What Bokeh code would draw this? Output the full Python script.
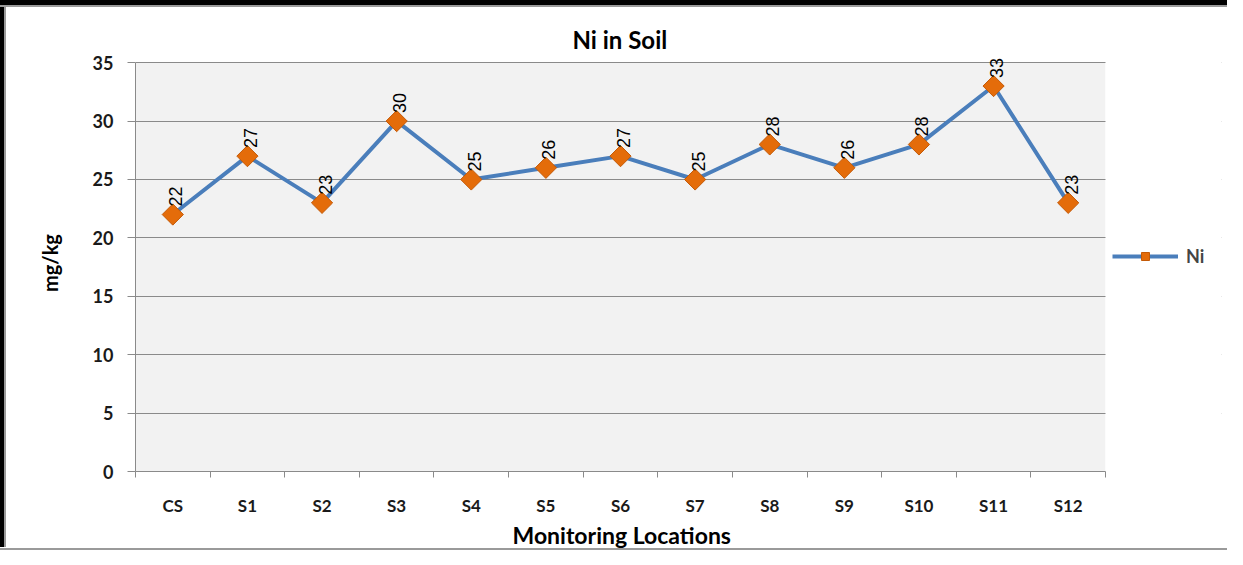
import math
from bokeh.plotting import figure
from bokeh.layouts import column, row
from bokeh.models import (ColumnDataSource, FixedTicker, Legend, LegendItem,
                          BoxAnnotation, Range1d, Div, Title)
from bokeh.core.properties import value
from bokeh.embed import file_html
from bokeh.resources import INLINE

categories = ["CS", "S1", "S2", "S3", "S4", "S5", "S6", "S7", "S8", "S9", "S10", "S11", "S12"]
ni_values = [22, 27, 23, 30, 25, 26, 27, 25, 28, 26, 28, 33, 23]
y_ticks = [0, 5, 10, 15, 20, 25, 30, 35]
y_max = 35

n = len(categories)
xpos = [i + 0.5 for i in range(n)]
src = ColumnDataSource(dict(x=xpos, y=ni_values, cat=categories,
                            lbl=[str(v) for v in ni_values]))

# layout (pixels)
FRAME_W, FRAME_H = 1086, 417
AREA_W = 970                      # width of the gray plot area inside the frame
x_end = n * FRAME_W / AREA_W      # frame extends right to host the legend
W, H = 1221, 540

fig = figure(width=W, height=H, frame_width=FRAME_W, frame_height=FRAME_H,
             output_backend="svg", toolbar_location=None,
             x_range=Range1d(0, x_end), y_range=Range1d(0, y_max + 0.7),
             min_border_left=129, min_border_right=6, min_border_top=47,
             min_border_bottom=76)

fig.background_fill_color = "white"
fig.border_fill_color = "white"
fig.outline_line_color = None

# gray plot area only up to the axis maximum and the last category
fig.add_layout(BoxAnnotation(left=0, right=n, bottom=0, top=y_max,
                             fill_color="#f2f2f2", fill_alpha=1,
                             line_color=None, level="image"))

# Title (centred over the gray plot area)
fig.title.text = "Ni in Soil"
fig.title.align = "left"
fig.title.offset = 437
fig.title.text_font = "Lato"
fig.title.text_font_size = "24px"
fig.title.text_font_style = "bold"
fig.title.text_color = "black"
fig.title.standoff = 2

# grid
fig.xgrid.grid_line_color = None
fig.ygrid.grid_line_color = "#8a8a8a"
fig.ygrid.grid_line_width = 1
fig.ygrid.ticker = FixedTicker(ticks=y_ticks[1:])

# hide grid lines right of the plot area (legend zone)
fig.add_layout(BoxAnnotation(left=n, fill_color="white", fill_alpha=1,
                             line_color=None, level="underlay"))

# x axis
xa = fig.xaxis[0]
xa.bounds = (0, n)
xa.ticker = FixedTicker(ticks=xpos, minor_ticks=list(range(n + 1)))
xa.major_label_overrides = {x: c for x, c in zip(xpos, categories)}
xa.major_tick_line_color = None
xa.major_tick_out = 0
xa.major_tick_in = 0
xa.minor_tick_line_color = "#8a8a8a"
xa.minor_tick_out = 6
xa.minor_tick_in = 0
xa.axis_line_color = "#8a8a8a"
xa.major_label_standoff = 17
xa.major_label_text_font = "Lato"
xa.major_label_text_font_size = "17px"
xa.major_label_text_font_style = "bold"
xa.major_label_text_color = "#1a1a1a"

# x axis title, centred under the gray plot area
fig.add_layout(Title(text="Monitoring Locations", align="left", offset=377,
                     text_font="Lato", text_font_size="23px",
                     text_font_style="bold", text_color="black", standoff=0),
               "below")

# y axis
ya = fig.yaxis[0]
ya.ticker = FixedTicker(ticks=y_ticks)
ya.bounds = (0, y_max)
ya.axis_line_color = "#8a8a8a"
ya.major_tick_line_color = "#8a8a8a"
ya.major_tick_out = 8
ya.major_tick_in = 0
ya.minor_tick_line_color = None
ya.major_label_standoff = 14
ya.major_label_text_font = "Lato"
ya.major_label_text_font_size = "18px"
ya.major_label_text_font_style = "bold"
ya.major_label_text_color = "#1a1a1a"
ya.axis_label = "mg/kg"
ya.axis_label_text_font = "Lato"
ya.axis_label_text_font_size = "20px"
ya.axis_label_text_font_style = "bold"
ya.axis_label_text_color = "black"
ya.axis_label_standoff = 28

# series
ln = fig.line("x", "y", source=src, line_color="#4a7ebb", line_width=4)
mk = fig.scatter("x", "y", source=src, marker="square", angle=math.pi / 4,
                 size=15, fill_color="#e46c0a", line_color="#c45a08", line_width=1)

# data labels
fig.text("x", "y", text="lbl", source=src, angle=math.pi / 2,
         text_align="left", text_baseline="middle", y_offset=-8, x_offset=3,
         text_font=value("Liberation Sans"), text_font_size="18px", text_color="black")

# legend
legend = Legend(items=[LegendItem(label="Ni", renderers=[ln, mk])],
                location=(977, 204), orientation="vertical",
                glyph_width=66, glyph_height=20, label_standoff=8,
                padding=0, margin=0, spacing=0,
                border_line_color=None, background_fill_alpha=0,
                label_text_font="Lato", label_text_font_size="18px",
                label_text_font_style="bold")
fig.add_layout(legend, "center")

# outer frame of the picture (black top/left edges with a thin gray inner line)
top_black = Div(text="", width=W + 6, height=5, margin=0,
                styles={"background-color": "black"})
top_gray = Div(text="", width=W + 6, height=2, margin=0,
               styles={"background-color": "#9a9a9a"})
left_black = Div(text="", width=4, height=H, margin=0,
                 styles={"background-color": "black"})
left_gray = Div(text="", width=2, height=H, margin=0,
                styles={"background-color": "#9a9a9a"})
bottom_gray = Div(text="", width=W + 6, height=2, margin=0,
                  styles={"background-color": "#9a9a9a"})

p = column(top_black, top_gray, row(left_black, left_gray, fig, spacing=0),
           bottom_gray, spacing=0)

open("out.html", "w").write(file_html(p, INLINE))
